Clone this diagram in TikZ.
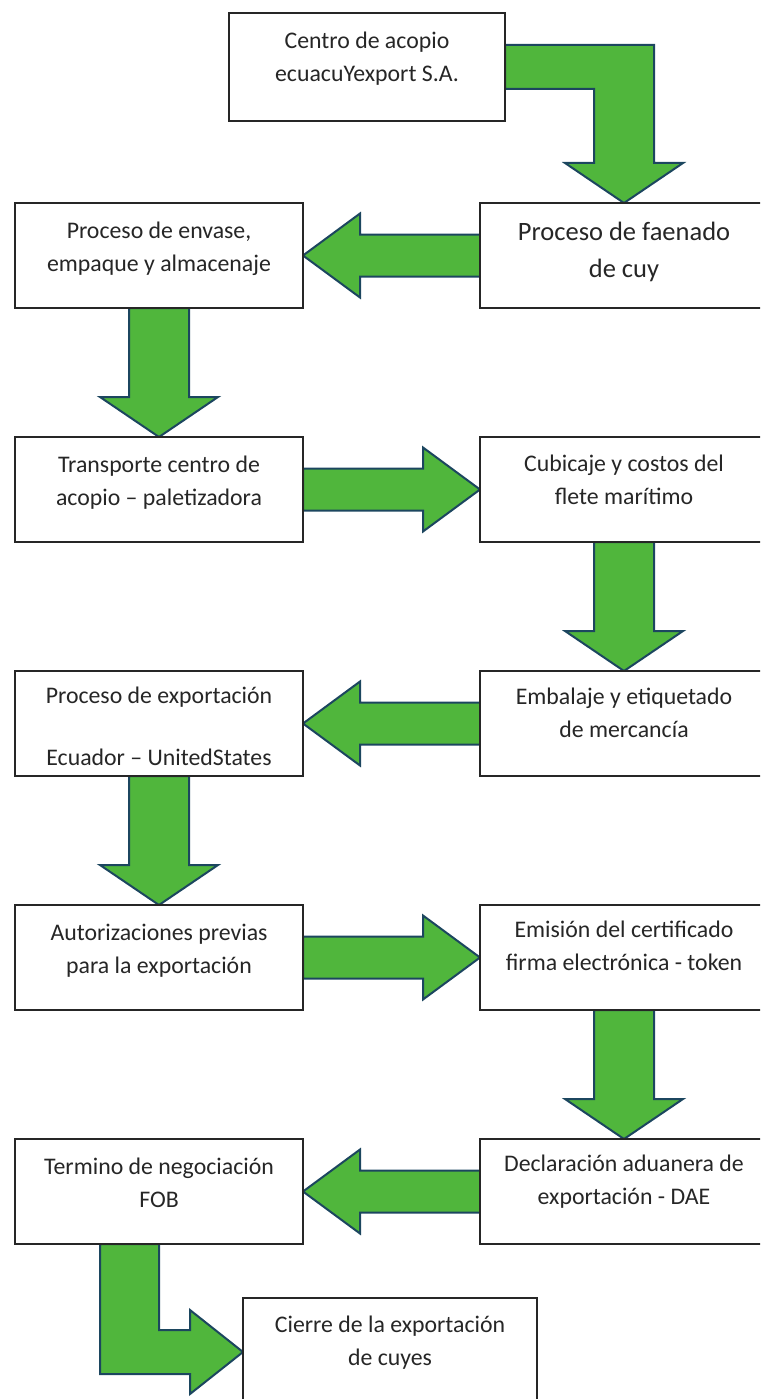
\documentclass[tikz,border=0pt]{standalone}
\usepackage{fontspec}
\setmainfont{Carlito}
\usepackage{tikz}
\usetikzlibrary{positioning,calc,backgrounds}

\definecolor{arrowgreen}{RGB}{80,182,60}
\definecolor{arrowline}{RGB}{28,70,95}

% block arrow between two boxes side by side (tip at #2)
\newcommand{\harrow}[2]{%
  \draw[blockarrow] let \p1=(#1), \p2=(#2), \p3=($(#2)!57pt!(#1)$) in
    (\x1,\y2+21pt) -- (\x3,\y2+21pt) -- (\x3,\y2+42pt) -- (\x2,\y2)
    -- (\x3,\y2-42pt) -- (\x3,\y2-21pt) -- (\x1,\y2-21pt) -- cycle;}
% block arrow going down from #1 to #2
\newcommand{\varrow}[2]{%
  \draw[blockarrow] let \p1=(#1), \p2=(#2) in
    (\x2-30pt,\y1) -- (\x2-30pt,\y2+40pt) -- (\x2-59pt,\y2+40pt) -- (\x2,\y2)
    -- (\x2+59pt,\y2+40pt) -- (\x2+30pt,\y2+40pt) -- (\x2+30pt,\y1) -- cycle;}

\begin{document}
\begin{tikzpicture}[
    x=1pt, y=-1pt,
    node distance=129pt and 177pt,
    box/.style={rectangle, draw=black!85, line width=1.8pt, fill=white, minimum width=288pt, minimum height=105pt, outer sep=0pt, inner sep=0pt},
    txt/.style={align=center, inner sep=0pt, text=black!85, font=\fontsize{23.8}{33}\selectfont},
    blockarrow/.style={draw=arrowline, fill=arrowgreen, line width=2pt, line join=miter}
]
    \path[use as bounding box, clip] (0,0) rectangle (760,1399);

    % boxes
    \node[box, minimum width=276pt, minimum height=108pt, anchor=north west] (acopio) at (229,13) {};
    \node[box, anchor=north west] (envase) at (15,203) {};
    \node[box, right=of envase] (faenado) {};
    \node[box, below=of envase] (transporte) {};
    \node[box, right=of transporte] (cubicaje) {};
    \node[box, below=of transporte] (exportacion) {};
    \node[box, right=of exportacion] (embalaje) {};
    \node[box, below=of exportacion] (autorizaciones) {};
    \node[box, right=of autorizaciones] (emision) {};
    \node[box, below=of autorizaciones] (termino) {};
    \node[box, right=of termino] (declaracion) {};
    \node[box, minimum width=294pt, minimum height=108pt, anchor=north west] (cierre) at (243,1298) {};

    % texts
    \node[txt, below=19pt of acopio.north] (acopio-txt) {Centro de acopio\\ecuacuYexport S.A.};
    \node[txt, font=\fontsize{26.5}{37}\selectfont, below=19pt of faenado.north] (faenado-txt) {Proceso de faenado\\de cuy};
    \node[txt, below=19pt of envase.north] (envase-txt) {Proceso de envase,\\empaque y almacenaje};
    \node[txt, below=19pt of transporte.north] (transporte-txt) {Transporte centro de\\acopio – paletizadora};
    \node[txt, below=18pt of cubicaje.north] (cubicaje-txt) {Cubicaje y costos del\\flete marítimo};
    \node[txt, below=17pt of embalaje.north] (embalaje-txt) {Embalaje y etiquetado\\de mercancía};
    \node[txt, font=\fontsize{23.8}{31}\selectfont, below=16pt of exportacion.north] (exportacion-txt) {Proceso de exportación\\[31pt]Ecuador – UnitedStates};
    \node[txt, below=19pt of autorizaciones.north] (autorizaciones-txt) {Autorizaciones previas\\para la exportación};
    \node[txt, below=16pt of emision.north] (emision-txt) {Emisión del certificado\\firma electrónica - token};
    \node[txt, below=16pt of declaracion.north] (declaracion-txt) {Declaración aduanera de\\exportación - DAE};
    \node[txt, below=19pt of termino.north] (termino-txt) {Termino de negociación\\FOB};
    \node[txt, below=18pt of cierre.north] (cierre-txt) {Cierre de la exportación\\de cuyes};

    % arrows
    \begin{scope}[on background layer]
    \draw[blockarrow] let \p1=(acopio.east), \p2=(faenado.north) in
        (\x1,\y1+22pt) -- (\x2+30pt,\y1+22pt) -- (\x2+30pt,\y2+40pt) -- (\x2+59pt,\y2+40pt) -- (\x2,\y2)
        -- (\x2-59pt,\y2+40pt) -- (\x2-30pt,\y2+40pt) -- (\x2-30pt,\y1-22pt) -- (\x1,\y1-22pt) -- cycle;
    \harrow{faenado.west}{envase.east}
    \varrow{envase.south}{transporte.north}
    \harrow{transporte.east}{cubicaje.west}
    \varrow{cubicaje.south}{embalaje.north}
    \harrow{embalaje.west}{exportacion.east}
    \varrow{exportacion.south}{autorizaciones.north}
    \harrow{autorizaciones.east}{emision.west}
    \varrow{emision.south}{declaracion.north}
    \harrow{declaracion.west}{termino.east}
    \draw[blockarrow] let \p1=(termino.south), \p2=(cierre.west) in
        (\x1-59pt,\y1) -- (\x1-59pt,\y2-22pt) -- (\x2-53pt,\y2-22pt) -- (\x2-53pt,\y2-42pt) -- (\x2,\y2)
        -- (\x2-53pt,\y2+42pt) -- (\x2-53pt,\y2+22pt) -- (\x1,\y2+22pt) -- (\x1,\y1) -- cycle;
    \end{scope}
\end{tikzpicture}
\end{document}
